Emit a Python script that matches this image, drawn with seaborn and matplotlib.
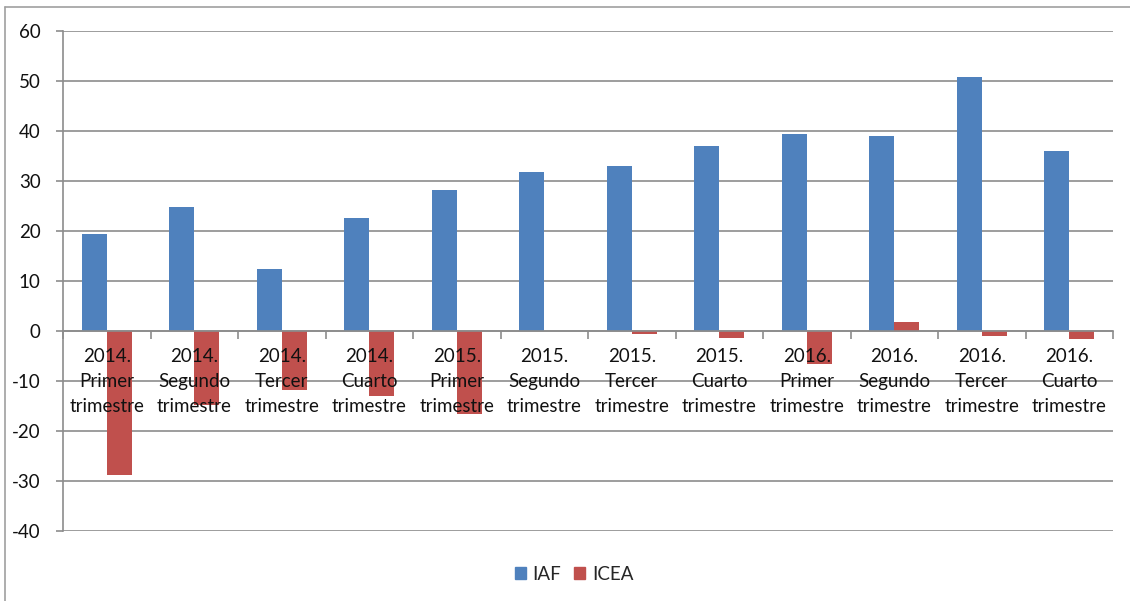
import matplotlib
matplotlib.use("Agg")
import matplotlib.pyplot as plt
import matplotlib.patches as mpatches
import seaborn as sns
import pandas as pd

# Data
periodos = [
    "2014.\nPrimer\ntrimestre", "2014.\nSegundo\ntrimestre", "2014.\nTercer\ntrimestre", "2014.\nCuarto\ntrimestre",
    "2015.\nPrimer\ntrimestre", "2015.\nSegundo\ntrimestre", "2015.\nTercer\ntrimestre", "2015.\nCuarto\ntrimestre",
    "2016.\nPrimer\ntrimestre", "2016.\nSegundo\ntrimestre", "2016.\nTercer\ntrimestre", "2016.\nCuarto\ntrimestre",
]
iaf = [19.5, 24.9, 12.4, 22.7, 28.3, 31.9, 33.1, 37.0, 39.4, 39.1, 50.9, 36.0]
icea = [-28.8, -14.8, -11.8, -12.9, -16.6, 0.0, -0.5, -1.3, -6.6, 1.9, -1.0, -1.6]
series = ["IAF", "ICEA"]
colores = ["#4F81BD", "#C0504D"]
yticks = list(range(-40, 61, 10))

df = pd.DataFrame({
    "periodo": periodos * 2,
    "valor": iaf + icea,
    "serie": [series[0]] * len(iaf) + [series[1]] * len(icea),
})

sns.set_style("white")
plt.rcParams["font.family"] = ["Lato", "DejaVu Sans"]
FS = 13.5
TXT = "#111111"

fig = plt.figure(figsize=(11.3, 6.01), dpi=100)
ax = fig.add_axes([63 / 1130, 1 - 531 / 601, (1113 - 63) / 1130, 500 / 601])

sns.barplot(data=df, x="periodo", y="valor", hue="serie", order=periodos,
            hue_order=series, palette=colores, width=0.57, saturation=1,
            edgecolor="none", legend=False, ax=ax)

grid_col = "#8c8c8c"
ax.set_ylim(-40, 60)
ax.set_xlim(-0.5, len(periodos) - 0.5)
ax.set_yticks(yticks)
ax.set_yticklabels([str(v) for v in yticks], fontsize=FS, color=TXT)
ax.yaxis.grid(True, color=grid_col, linewidth=1.2)
ax.set_axisbelow(True)
ax.tick_params(axis="y", length=5, width=1.2, color=grid_col, pad=11, left=True)

# category axis sits on the zero line
for s in ["top", "right"]:
    ax.spines[s].set_visible(False)
ax.spines["left"].set_color(grid_col)
ax.spines["left"].set_linewidth(1.2)
ax.spines["bottom"].set_position(("data", 0))
ax.spines["bottom"].set_color(grid_col)
ax.spines["bottom"].set_linewidth(1.2)

ax.set_xticks([i - 0.5 for i in range(len(periodos) + 1)])
ax.set_xticklabels([])
ax.tick_params(axis="x", which="major", length=6, width=1.2, color=grid_col,
               bottom=True, direction="out")
ax.set_xlabel("")
ax.set_ylabel("")

# category labels drawn on top of the bars, as in the reference
for i, lab in enumerate(periodos):
    ax.annotate(lab, xy=(i, 0), xytext=(0, -12), textcoords="offset points",
                ha="center", va="top", fontsize=FS, color=TXT,
                linespacing=1.6, zorder=10, annotation_clip=False)

handles = [mpatches.Patch(color=c, label=s) for s, c in zip(series, colores)]
fig.legend(handles=handles, loc="center", bbox_to_anchor=(574 / 1130, 1 - 574 / 601),
           ncol=2, frameon=False, fontsize=FS, handlelength=0.6,
           handleheight=0.6, handletextpad=0.35, columnspacing=0.7)

# outer chart frame (left and top edges visible in the reference)
fig.add_artist(plt.Line2D([5 / 1130, 5 / 1130], [0, 1 - 7 / 601],
                          transform=fig.transFigure, color="#a0a0a0", lw=1.2))
fig.add_artist(plt.Line2D([5 / 1130, 1], [1 - 7 / 601, 1 - 7 / 601],
                          transform=fig.transFigure, color="#a0a0a0", lw=1.2))

fig.savefig("out.png", dpi=100)
